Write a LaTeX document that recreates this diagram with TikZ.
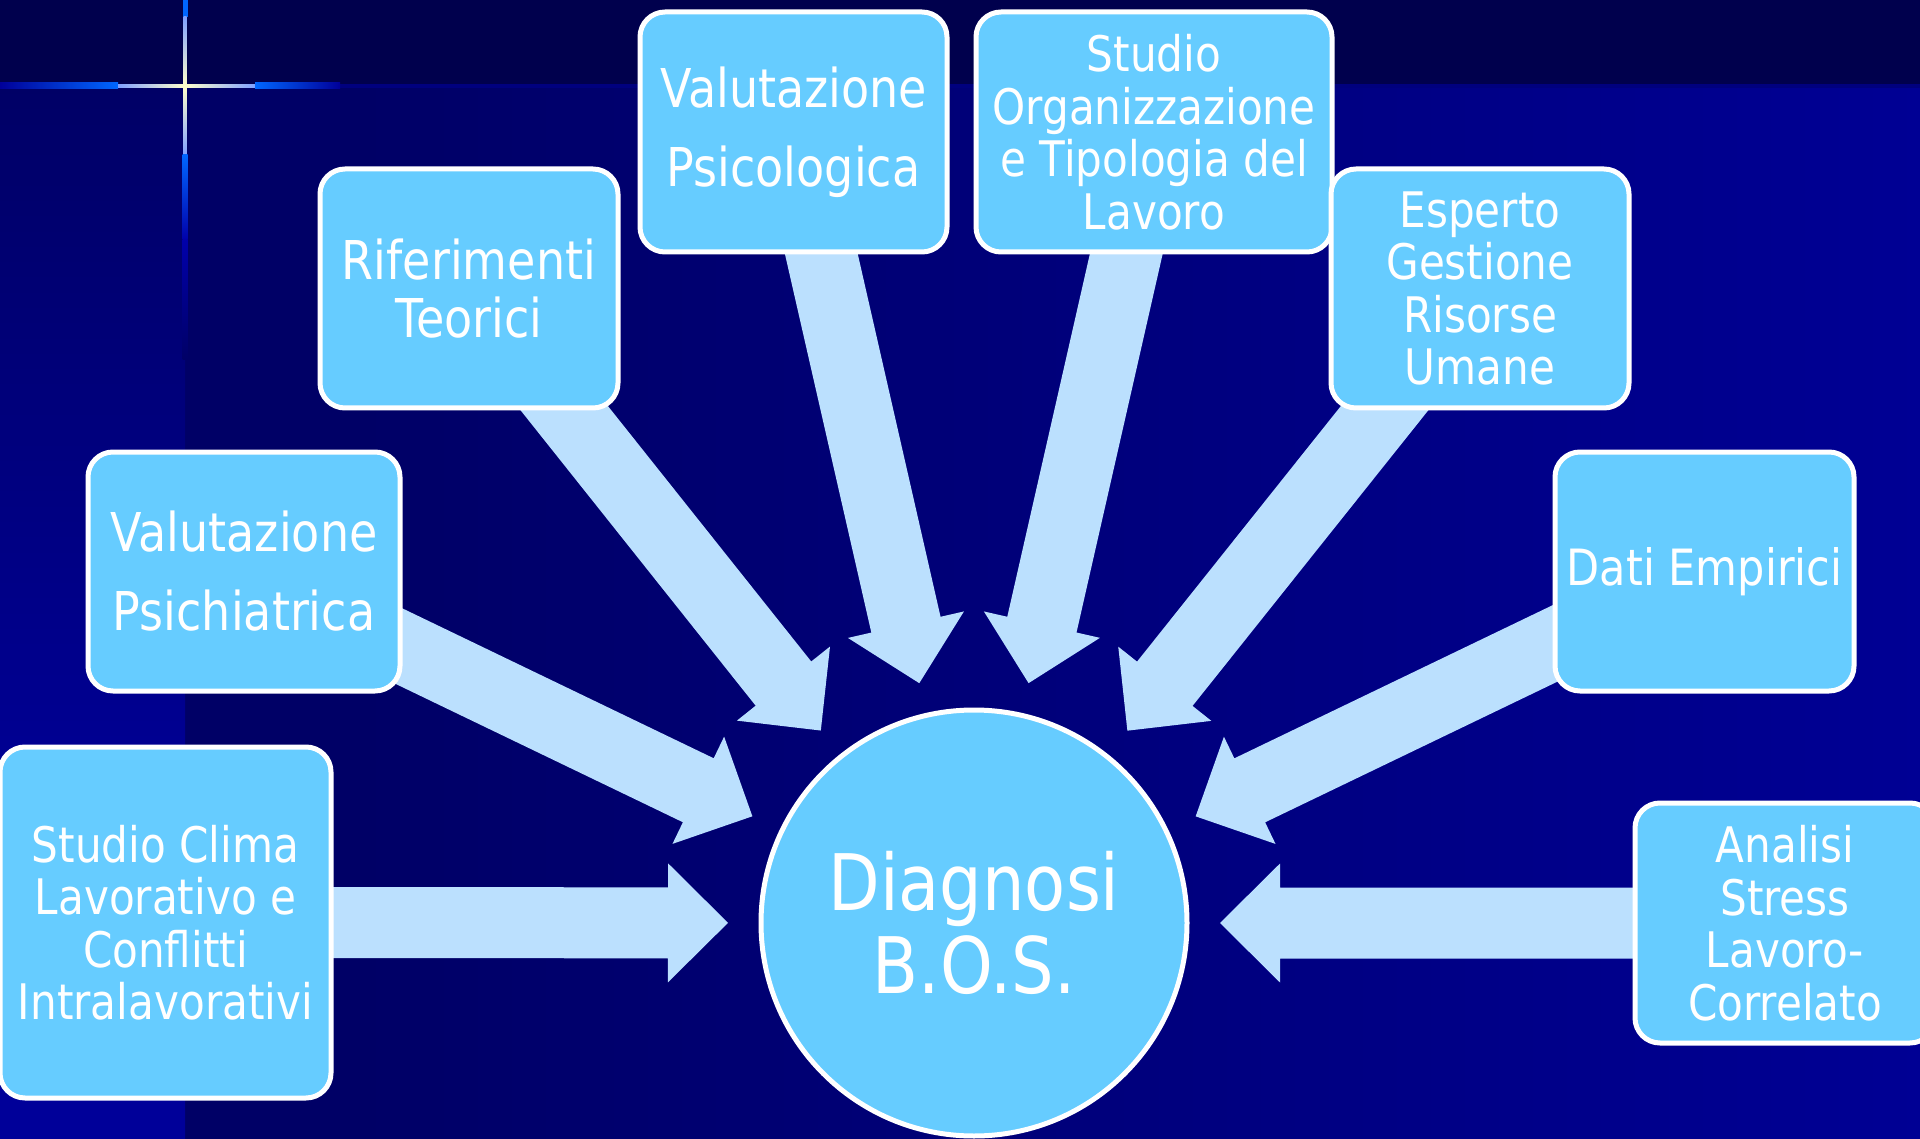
\documentclass[tikz,border=0pt]{standalone}
\usepackage{fontspec}
\setmainfont{DejaVu Sans}[FakeStretch=0.86]
\usetikzlibrary{calc}

\definecolor{topband}{HTML}{00004D}
\definecolor{bgdark}{HTML}{000066}
\definecolor{bglight}{HTML}{000099}
\definecolor{seam}{HTML}{00007E}
\definecolor{boxfill}{HTML}{66CCFF}
\definecolor{arrowfill}{HTML}{BBE0FE}
\definecolor{glowblue}{HTML}{0066FF}
\definecolor{glowdeep}{HTML}{0000AA}
\definecolor{glowcore}{HTML}{FFFFCC}
\definecolor{glowpale}{HTML}{7FA0FF}

\pgfdeclarelayer{backdrop}
\pgfdeclarelayer{arrowlayer}
\pgfsetlayers{backdrop,arrowlayer,main}

% backdrop gradients
\pgfdeclarehorizontalshading{mainbg}{100bp}{color(0bp)=(bgdark); color(30bp)=(bgdark); color(80bp)=(bglight); color(100bp)=(bglight)}
\pgfdeclareverticalshading{stripbg}{100bp}{color(0bp)=(bglight); color(38bp)=(bglight); color(75bp)=(bgdark); color(100bp)=(bgdark)}

% block arrow from a box towards the central circle
\newcommand{\feedarrow}[1]{%
  \coordinate (#1-base) at ($(diag.center)!306pt!(#1.center)$);
  \fill[arrowbody] ($(diag.center)!246pt!(#1.center)$)
    -- ($(#1-base)!59.5pt!90:(#1.center)$)
    -- ($(#1-base)!35.5pt!90:(#1.center)$)
    -- ($(#1.center)!35.5pt!-90:(diag.center)$)
    -- ($(#1.center)!35.5pt!90:(diag.center)$)
    -- ($(#1-base)!35.5pt!-90:(#1.center)$)
    -- ($(#1-base)!59.5pt!-90:(#1.center)$)
    -- cycle;}

\begin{document}
\begin{tikzpicture}[x=1pt,y=-1pt,
  stage/.style={rectangle, rounded corners=25pt, fill=boxfill, draw=white,
    line width=5pt, text=white, align=center, inner sep=0pt},
  hub/.style={circle, fill=boxfill, draw=white, line width=5pt, text=white,
    align=center, inner sep=0pt, minimum size=426pt},
  arrowbody/.style={fill=arrowfill},
  fourline/.style={font=\fontsize{49}{52.5}\selectfont},
  twoline/.style={font=\fontsize{53.5}{79}\selectfont}]

\useasboundingbox (0,0) rectangle (1920,1139);

% central circle
\node[hub, font=\fontsize{78}{83}\selectfont] (diag) at (974,923) {Diagnosi\\B.O.S.};

% surrounding boxes
\node[stage, fourline, minimum width=331pt, minimum height=351pt] (clima) at (165.5,922.5)
  {Studio Clima\\Lavorativo e\\Conflitti\\Intralavorativi};
\node[stage, twoline, minimum width=312pt, minimum height=239pt] (psichiatrica) at (244,571.5)
  {Valutazione\\Psichiatrica};
\node[stage, font=\fontsize{53.5}{58}\selectfont, minimum width=298pt, minimum height=239pt] (teorici) at (469,288.5)
  {Riferimenti\\Teorici};
\node[stage, twoline, minimum width=307pt, minimum height=240pt] (psicologica) at (793.5,132)
  {Valutazione\\Psicologica};
\node[stage, fourline, minimum width=356pt, minimum height=240pt] (organizzazione) at (1154,132)
  {Studio\\Organizzazione\\e Tipologia del\\Lavoro};
\node[stage, fourline, minimum width=298pt, minimum height=239pt] (esperto) at (1480,288.5)
  {Esperto\\Gestione\\Risorse\\Umane};
\node[stage, font=\fontsize{50}{60}\selectfont, minimum width=299pt, minimum height=239pt] (dati) at (1704.5,571.5)
  {Dati Empirici};
\node[stage, fourline, minimum width=300pt, minimum height=240pt] (analisi) at (1785,923)
  {Analisi\\Stress\\Lavoro-\\Correlato};

% arrows into the circle
\begin{pgfonlayer}{arrowlayer}
  \feedarrow{clima}
  \feedarrow{psichiatrica}
  \feedarrow{teorici}
  \feedarrow{psicologica}
  \feedarrow{organizzazione}
  \feedarrow{esperto}
  \feedarrow{dati}
  \feedarrow{analisi}
\end{pgfonlayer}

% slide backdrop with the glowing cross
\begin{pgfonlayer}{backdrop}
  \fill[bgdark] (0,0) rectangle (1920,1139);
  \shade[shading=mainbg] (185,86) rectangle (1920,1139);
  \shade[shading=stripbg] (0,86) rectangle (185,1139);
  \fill[topband] (0,0) rectangle (1920,84);
  \fill[seam] (0,84) rectangle (1920,88);
  % horizontal beam
  \shade[left color=bglight, right color=glowblue] (0,83) rectangle (118,89);
  \shade[left color=glowpale, right color=glowcore] (118,84.5) rectangle (185,87.5);
  \shade[left color=glowcore, right color=glowpale] (185,84.5) rectangle (255,87.5);
  \shade[left color=glowblue, right color=bglight] (255,83) rectangle (340,89);
  % vertical beam
  \fill[glowblue] (182.5,0) rectangle (187.5,17);
  \shade[top color=glowpale, bottom color=glowcore] (183.5,17) rectangle (186.5,86);
  \shade[top color=glowcore, bottom color=glowpale] (183.5,86) rectangle (186.5,155);
  \shade[top color=glowblue, bottom color=glowdeep] (182.5,155) rectangle (187.5,240);
  \shade[top color=glowdeep, bottom color=bgdark] (182.5,240) rectangle (187.5,360);
\end{pgfonlayer}
\end{tikzpicture}
\end{document}
